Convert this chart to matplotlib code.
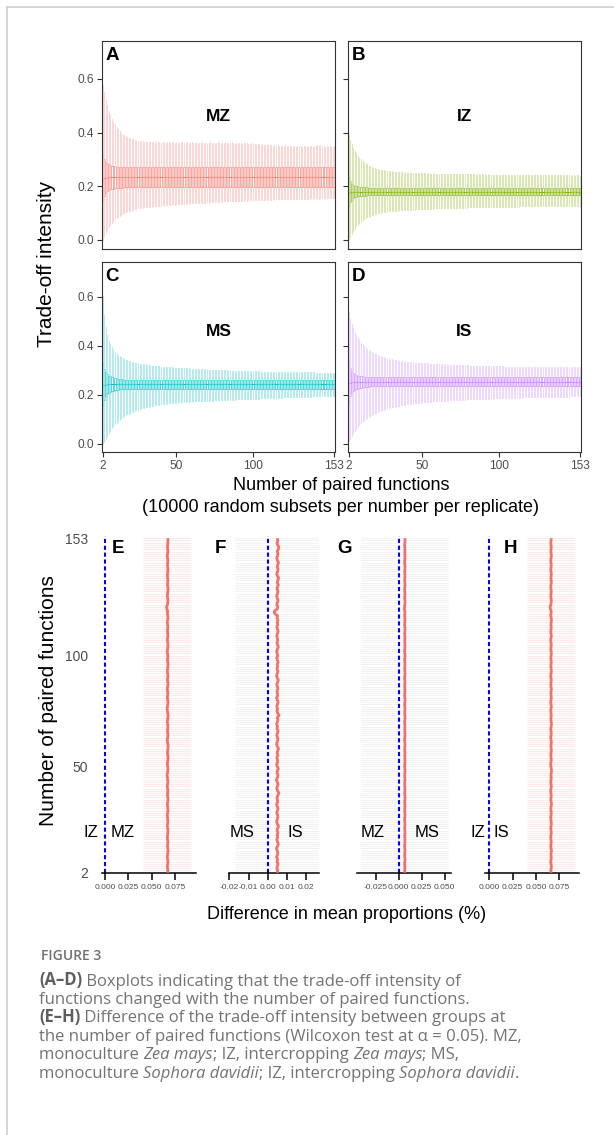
# -*- coding: utf-8 -*-
import matplotlib
matplotlib.use('Agg')
import matplotlib.pyplot as plt
from matplotlib.lines import Line2D
from matplotlib.font_manager import FontProperties

W, H = 614, 1135

# number of paired functions (one box / one estimate per number)
N_PAIRS = list(range(2, 154))

# ---------------- A-D : boxplot statistics per number of paired functions
MZ_HI = [0.578, 0.552, 0.523, 0.501, 0.482, 0.466, 0.452, 0.440, 0.430, 0.421,
         0.413, 0.406, 0.400, 0.395, 0.390, 0.386, 0.383, 0.380, 0.378, 0.376,
         0.374, 0.372, 0.371, 0.370, 0.369, 0.368, 0.367, 0.366, 0.366, 0.365,
         0.364, 0.365, 0.363, 0.364, 0.362, 0.364, 0.365, 0.363, 0.362, 0.364,
         0.363, 0.362, 0.364, 0.363, 0.361, 0.363, 0.364, 0.362, 0.363, 0.361,
         0.362, 0.364, 0.363, 0.361, 0.362, 0.363, 0.361, 0.362, 0.364, 0.362,
         0.361, 0.363, 0.362, 0.360, 0.362, 0.363, 0.361, 0.362, 0.360, 0.362,
         0.363, 0.361, 0.362, 0.360, 0.361, 0.363, 0.362, 0.360, 0.361, 0.362,
         0.364, 0.362, 0.360, 0.361, 0.363, 0.360, 0.359, 0.361, 0.362, 0.360,
         0.361, 0.359, 0.360, 0.362, 0.360, 0.358, 0.359, 0.361, 0.358, 0.357,
         0.358, 0.356, 0.357, 0.355, 0.356, 0.354, 0.355, 0.353, 0.354, 0.352,
         0.353, 0.351, 0.352, 0.350, 0.352, 0.351, 0.349, 0.351, 0.350, 0.352,
         0.350, 0.349, 0.351, 0.348, 0.350, 0.349, 0.347, 0.349, 0.350, 0.348,
         0.347, 0.349, 0.348, 0.346, 0.348, 0.347, 0.349, 0.346, 0.348, 0.350,
         0.352, 0.355, 0.353, 0.350, 0.348, 0.347, 0.349, 0.346, 0.348, 0.347,
         0.346, 0.348]
MZ_LO = [0.000, 0.014, 0.027, 0.038, 0.048, 0.056, 0.063, 0.070, 0.076, 0.081,
         0.086, 0.090, 0.094, 0.097, 0.100, 0.103, 0.105, 0.107, 0.109, 0.111,
         0.113, 0.114, 0.116, 0.117, 0.118, 0.119, 0.120, 0.121, 0.122, 0.122,
         0.123, 0.124, 0.124, 0.125, 0.126, 0.126, 0.127, 0.127, 0.128, 0.128,
         0.129, 0.129, 0.130, 0.130, 0.131, 0.131, 0.132, 0.131, 0.133, 0.132,
         0.133, 0.134, 0.133, 0.135, 0.134, 0.135, 0.136, 0.135, 0.136, 0.137,
         0.136, 0.137, 0.138, 0.137, 0.138, 0.139, 0.138, 0.139, 0.140, 0.139,
         0.140, 0.141, 0.140, 0.141, 0.142, 0.141, 0.142, 0.143, 0.142, 0.143,
         0.144, 0.143, 0.144, 0.145, 0.144, 0.145, 0.146, 0.145, 0.146, 0.146,
         0.146, 0.145, 0.146, 0.147, 0.146, 0.147, 0.147, 0.148, 0.147, 0.148,
         0.148, 0.147, 0.148, 0.149, 0.148, 0.149, 0.149, 0.150, 0.149, 0.150,
         0.150, 0.151, 0.150, 0.151, 0.151, 0.152, 0.151, 0.152, 0.152, 0.152,
         0.151, 0.152, 0.153, 0.152, 0.153, 0.153, 0.152, 0.153, 0.154, 0.153,
         0.154, 0.153, 0.154, 0.154, 0.153, 0.154, 0.155, 0.154, 0.155, 0.154,
         0.155, 0.154, 0.155, 0.156, 0.155, 0.155, 0.156, 0.155, 0.156, 0.155,
         0.156, 0.156]
MZ_Q3 = [0.316, 0.300, 0.290, 0.285, 0.281, 0.278, 0.276, 0.275, 0.274, 0.273,
         0.272, 0.272, 0.271, 0.271] + [0.270] * 138
MZ_Q1 = [0.148, 0.165, 0.175, 0.181, 0.185, 0.188, 0.190, 0.191, 0.192, 0.193,
         0.194, 0.194, 0.195, 0.195] + [0.197] * 138
MZ_MED = [0.225, 0.229, 0.231, 0.232, 0.233, 0.233, 0.234, 0.234, 0.234, 0.234,
          0.234, 0.234, 0.234, 0.234] + [0.233] * 138

IZ_HI = [0.390, 0.372, 0.357, 0.344, 0.333, 0.323, 0.314, 0.306, 0.300, 0.294,
         0.289, 0.285, 0.281, 0.277, 0.274, 0.271, 0.269, 0.267, 0.265, 0.263,
         0.262, 0.261, 0.260, 0.259, 0.258, 0.257, 0.256, 0.255, 0.255, 0.254,
         0.254, 0.253, 0.253, 0.252, 0.252, 0.252, 0.251, 0.251, 0.251, 0.250,
         0.250, 0.250, 0.249, 0.250, 0.249, 0.249, 0.248, 0.249, 0.248, 0.248,
         0.248, 0.247, 0.248, 0.247, 0.247, 0.248, 0.247, 0.246, 0.247, 0.246,
         0.247, 0.246, 0.246, 0.245, 0.246, 0.246, 0.245, 0.246, 0.245, 0.245,
         0.246, 0.245, 0.245, 0.244, 0.245, 0.245, 0.244, 0.245, 0.244, 0.244,
         0.245, 0.244, 0.244, 0.243, 0.244, 0.244, 0.243, 0.244, 0.243, 0.244,
         0.243, 0.244, 0.243, 0.243, 0.242, 0.243, 0.243, 0.242, 0.243, 0.242,
         0.243, 0.242, 0.243, 0.242, 0.242, 0.243, 0.242, 0.242, 0.241, 0.242,
         0.242, 0.241, 0.242, 0.242, 0.241, 0.242, 0.241, 0.241, 0.242, 0.241,
         0.241, 0.242, 0.241, 0.241, 0.240, 0.241, 0.241, 0.240, 0.241, 0.241,
         0.240, 0.241, 0.240, 0.241, 0.240, 0.240, 0.241, 0.240, 0.240, 0.241,
         0.240, 0.240, 0.241, 0.240, 0.240, 0.239, 0.240, 0.240, 0.239, 0.240,
         0.240, 0.239]
IZ_LO = [0.000, 0.012, 0.023, 0.033, 0.042, 0.050, 0.057, 0.063, 0.068, 0.073,
         0.077, 0.081, 0.084, 0.087, 0.090, 0.092, 0.094, 0.096, 0.098, 0.099,
         0.100, 0.101, 0.102, 0.103, 0.104, 0.105, 0.106, 0.106, 0.107, 0.108,
         0.108, 0.109, 0.109, 0.110, 0.110, 0.111, 0.111, 0.111, 0.112, 0.112,
         0.112, 0.113, 0.113, 0.113, 0.114, 0.114, 0.114, 0.114, 0.115, 0.115,
         0.115, 0.115, 0.116, 0.116, 0.116, 0.116, 0.117, 0.117, 0.117, 0.117,
         0.117, 0.118, 0.118, 0.118, 0.118, 0.118, 0.119, 0.119, 0.119, 0.119,
         0.119, 0.119, 0.120, 0.120, 0.120, 0.120, 0.120, 0.120, 0.121, 0.121,
         0.121, 0.121, 0.121, 0.121, 0.121, 0.122, 0.122, 0.122, 0.122, 0.122,
         0.122, 0.122, 0.122, 0.123, 0.123, 0.123, 0.123, 0.123, 0.123, 0.123,
         0.123, 0.123, 0.124, 0.124, 0.124, 0.124, 0.124, 0.124, 0.124, 0.124,
         0.124, 0.124, 0.125, 0.125, 0.125, 0.125, 0.125, 0.125, 0.125, 0.125,
         0.125, 0.125, 0.125, 0.126, 0.126, 0.126, 0.126, 0.126, 0.126, 0.126,
         0.126, 0.126, 0.126, 0.126, 0.126, 0.127, 0.127, 0.127, 0.127, 0.127,
         0.127, 0.127, 0.127, 0.127, 0.127, 0.127, 0.127, 0.127, 0.128, 0.128,
         0.128, 0.128]
IZ_Q3 = [0.230, 0.218, 0.210, 0.205, 0.202, 0.200, 0.199, 0.198, 0.197, 0.197,
         0.196, 0.196, 0.196, 0.195] + [0.195] * 138
IZ_Q1 = [0.125, 0.140, 0.150, 0.155, 0.158, 0.160, 0.162, 0.163, 0.164, 0.164,
         0.165, 0.165, 0.166, 0.166] + [0.166] * 138
IZ_MED = [0.176, 0.177, 0.178, 0.178, 0.179, 0.179, 0.179, 0.179, 0.179, 0.179,
          0.179, 0.179, 0.179, 0.179] + [0.179] * 138

MS_HI = [0.604, 0.523, 0.475, 0.443, 0.420, 0.405, 0.393, 0.383, 0.375, 0.368,
         0.362, 0.357, 0.353, 0.349, 0.346, 0.343, 0.340, 0.338, 0.336, 0.334,
         0.332, 0.330, 0.329, 0.327, 0.326, 0.325, 0.324, 0.323, 0.322, 0.321,
         0.320, 0.319, 0.318, 0.318, 0.317, 0.316, 0.316, 0.315, 0.314, 0.314,
         0.313, 0.313, 0.312, 0.312, 0.311, 0.311, 0.310, 0.310, 0.310, 0.309,
         0.309, 0.308, 0.308, 0.308, 0.307, 0.307, 0.307, 0.306, 0.306, 0.306,
         0.305, 0.305, 0.305, 0.304, 0.304, 0.304, 0.303, 0.303, 0.303, 0.302,
         0.302, 0.302, 0.301, 0.301, 0.301, 0.300, 0.300, 0.300, 0.300, 0.299,
         0.299, 0.299, 0.299, 0.298, 0.298, 0.298, 0.298, 0.297, 0.297, 0.297,
         0.297, 0.297, 0.296, 0.296, 0.296, 0.296, 0.296, 0.295, 0.295, 0.295,
         0.295, 0.295, 0.295, 0.294, 0.294, 0.294, 0.294, 0.294, 0.294, 0.294,
         0.293, 0.293, 0.293, 0.293, 0.293, 0.293, 0.293, 0.293, 0.292, 0.292,
         0.292, 0.292, 0.292, 0.292, 0.292, 0.292, 0.292, 0.292, 0.291, 0.291,
         0.291, 0.291, 0.291, 0.291, 0.291, 0.291, 0.291, 0.291, 0.291, 0.290,
         0.290, 0.290, 0.290, 0.290, 0.290, 0.290, 0.290, 0.290, 0.290, 0.290,
         0.290, 0.290]
MS_LO = [0.000, 0.008, 0.018, 0.030, 0.042, 0.053, 0.063, 0.072, 0.080, 0.086,
         0.092, 0.098, 0.103, 0.108, 0.112, 0.116, 0.120, 0.123, 0.126, 0.129,
         0.131, 0.134, 0.136, 0.138, 0.140, 0.142, 0.144, 0.146, 0.148, 0.150,
         0.151, 0.153, 0.154, 0.155, 0.156, 0.157, 0.158, 0.159, 0.160, 0.161,
         0.162, 0.162, 0.163, 0.164, 0.164, 0.165, 0.166, 0.166, 0.167, 0.167,
         0.168, 0.168, 0.169, 0.169, 0.170, 0.170, 0.171, 0.171, 0.171, 0.172,
         0.172, 0.173, 0.173, 0.173, 0.174, 0.174, 0.174, 0.175, 0.175, 0.175,
         0.176, 0.176, 0.176, 0.177, 0.177, 0.177, 0.178, 0.178, 0.178, 0.178,
         0.179, 0.179, 0.179, 0.180, 0.180, 0.180, 0.180, 0.181, 0.181, 0.181,
         0.181, 0.182, 0.182, 0.182, 0.182, 0.183, 0.183, 0.183, 0.183, 0.184,
         0.184, 0.184, 0.184, 0.185, 0.185, 0.185, 0.185, 0.186, 0.186, 0.186,
         0.186, 0.187, 0.187, 0.187, 0.187, 0.188, 0.188, 0.188, 0.188, 0.189,
         0.189, 0.189, 0.189, 0.190, 0.190, 0.190, 0.190, 0.190, 0.191, 0.191,
         0.191, 0.191, 0.192, 0.192, 0.192, 0.192, 0.192, 0.193, 0.193, 0.193,
         0.193, 0.193, 0.194, 0.194, 0.194, 0.194, 0.194, 0.195, 0.195, 0.195,
         0.195, 0.195]
MS_Q3 = [0.330, 0.305, 0.292, 0.284, 0.278, 0.274, 0.271, 0.269, 0.267, 0.266,
         0.265, 0.264, 0.263, 0.263] + [0.261] * 138
MS_Q1 = [0.158, 0.180, 0.193, 0.201, 0.207, 0.211, 0.214, 0.216, 0.218, 0.219,
         0.220, 0.221, 0.222, 0.223] + [0.225] * 138
MS_MED = [0.240, 0.241, 0.241, 0.242, 0.242, 0.242, 0.242, 0.242, 0.242, 0.242,
          0.242, 0.242, 0.242, 0.242] + [0.242] * 138

IS_HI = [0.537, 0.510, 0.488, 0.470, 0.457, 0.445, 0.434, 0.424, 0.415, 0.407,
         0.400, 0.394, 0.388, 0.383, 0.378, 0.374, 0.370, 0.367, 0.364, 0.361,
         0.359, 0.357, 0.355, 0.353, 0.351, 0.349, 0.347, 0.346, 0.344, 0.343,
         0.342, 0.341, 0.340, 0.339, 0.338, 0.337, 0.336, 0.335, 0.335, 0.334,
         0.333, 0.333, 0.332, 0.331, 0.331, 0.330, 0.330, 0.329, 0.329, 0.328,
         0.328, 0.327, 0.327, 0.326, 0.326, 0.326, 0.325, 0.325, 0.324, 0.324,
         0.324, 0.323, 0.323, 0.323, 0.322, 0.322, 0.322, 0.321, 0.321, 0.321,
         0.321, 0.320, 0.320, 0.320, 0.320, 0.319, 0.319, 0.319, 0.319, 0.318,
         0.318, 0.318, 0.318, 0.318, 0.317, 0.317, 0.317, 0.317, 0.317, 0.316,
         0.316, 0.316, 0.316, 0.316, 0.316, 0.315, 0.315, 0.315, 0.315, 0.315,
         0.315, 0.315, 0.314, 0.314, 0.314, 0.314, 0.314, 0.314, 0.314, 0.314,
         0.313, 0.313, 0.313, 0.313, 0.313, 0.313, 0.313, 0.313, 0.313, 0.313,
         0.313, 0.312, 0.312, 0.312, 0.312, 0.312, 0.312, 0.312, 0.312, 0.312,
         0.312, 0.312, 0.312, 0.312, 0.311, 0.311, 0.311, 0.311, 0.311, 0.311,
         0.311, 0.311, 0.311, 0.311, 0.311, 0.311, 0.311, 0.311, 0.311, 0.311,
         0.311, 0.311]
IS_LO = [0.010, 0.020, 0.031, 0.042, 0.052, 0.061, 0.069, 0.077, 0.084, 0.090,
         0.096, 0.101, 0.106, 0.110, 0.114, 0.118, 0.121, 0.124, 0.127, 0.130,
         0.132, 0.134, 0.137, 0.139, 0.141, 0.143, 0.144, 0.146, 0.148, 0.149,
         0.151, 0.152, 0.153, 0.155, 0.156, 0.157, 0.158, 0.159, 0.160, 0.161,
         0.162, 0.163, 0.163, 0.164, 0.165, 0.166, 0.166, 0.167, 0.168, 0.168,
         0.169, 0.169, 0.170, 0.171, 0.171, 0.172, 0.172, 0.173, 0.173, 0.174,
         0.174, 0.175, 0.175, 0.175, 0.176, 0.176, 0.177, 0.177, 0.177, 0.178,
         0.178, 0.178, 0.179, 0.179, 0.179, 0.180, 0.180, 0.180, 0.181, 0.181,
         0.181, 0.181, 0.182, 0.182, 0.182, 0.183, 0.183, 0.183, 0.183, 0.184,
         0.184, 0.184, 0.184, 0.185, 0.185, 0.185, 0.185, 0.185, 0.186, 0.186,
         0.186, 0.186, 0.186, 0.187, 0.187, 0.187, 0.187, 0.187, 0.188, 0.188,
         0.188, 0.188, 0.188, 0.188, 0.189, 0.189, 0.189, 0.189, 0.189, 0.189,
         0.190, 0.190, 0.190, 0.190, 0.190, 0.190, 0.190, 0.191, 0.191, 0.191,
         0.191, 0.191, 0.191, 0.191, 0.191, 0.192, 0.192, 0.192, 0.192, 0.192,
         0.192, 0.192, 0.192, 0.192, 0.192, 0.193, 0.193, 0.193, 0.193, 0.193,
         0.193, 0.193]
IS_Q3 = [0.330, 0.308, 0.296, 0.289, 0.284, 0.280, 0.278, 0.276, 0.275, 0.274,
         0.273, 0.272, 0.272, 0.271] + [0.270] * 138
IS_Q1 = [0.170, 0.193, 0.205, 0.213, 0.218, 0.222, 0.225, 0.227, 0.229, 0.230,
         0.231, 0.232, 0.232, 0.233] + [0.235] * 138
IS_MED = [0.248, 0.249, 0.250, 0.250, 0.250, 0.251, 0.251, 0.251, 0.251, 0.251,
          0.251, 0.251, 0.251, 0.251] + [0.251] * 138

# ---------------- E-H : difference in mean proportions per number
E_DIFF = [
    0.0671, 0.0674, 0.0670, 0.0668, 0.0672, 0.0675, 0.0671, 0.0667, 0.0670, 0.0673, 0.0676, 0.0672, 0.0669, 0.0671, 0.0674, 0.0670, 0.0668, 0.0671, 0.0673,
    0.0675, 0.0671, 0.0668, 0.0670, 0.0674, 0.0672, 0.0669, 0.0667, 0.0671, 0.0675, 0.0673, 0.0670, 0.0668, 0.0672, 0.0676, 0.0673, 0.0669, 0.0671, 0.0674,
    0.0670, 0.0667, 0.0671, 0.0674, 0.0672, 0.0669, 0.0665, 0.0670, 0.0673, 0.0675, 0.0671, 0.0668, 0.0670, 0.0673, 0.0676, 0.0672, 0.0669, 0.0671, 0.0674,
    0.0677, 0.0673, 0.0670, 0.0668, 0.0671, 0.0675, 0.0672, 0.0669, 0.0672, 0.0674, 0.0671, 0.0668, 0.0670, 0.0673, 0.0676, 0.0672, 0.0669, 0.0666, 0.0670,
    0.0673, 0.0675, 0.0671, 0.0668, 0.0671, 0.0674, 0.0670, 0.0667, 0.0671, 0.0675, 0.0673, 0.0669, 0.0671, 0.0674, 0.0671, 0.0668, 0.0670, 0.0673, 0.0676,
    0.0672, 0.0669, 0.0671, 0.0674, 0.0670, 0.0667, 0.0671, 0.0673, 0.0675, 0.0671, 0.0668, 0.0670, 0.0674, 0.0672, 0.0669, 0.0671, 0.0674, 0.0670, 0.0667,
    0.0671, 0.0675, 0.0672, 0.0669, 0.0671, 0.0663, 0.0659, 0.0670, 0.0673, 0.0675, 0.0671, 0.0668, 0.0670, 0.0673, 0.0676, 0.0672, 0.0669, 0.0671, 0.0674,
    0.0671, 0.0668, 0.0670, 0.0673, 0.0675, 0.0671, 0.0669, 0.0672, 0.0674, 0.0670, 0.0667, 0.0671, 0.0674, 0.0672, 0.0669, 0.0671, 0.0673, 0.0675, 0.0671]
F_DIFF = [
    0.0049, 0.0052, 0.0047, 0.0050, 0.0054, 0.0048, 0.0051, 0.0046, 0.0050, 0.0053, 0.0049, 0.0045, 0.0051, 0.0055, 0.0050, 0.0047, 0.0052, 0.0049, 0.0053,
    0.0048, 0.0051, 0.0056, 0.0050, 0.0046, 0.0049, 0.0053, 0.0051, 0.0047, 0.0050, 0.0054, 0.0049, 0.0046, 0.0052, 0.0050, 0.0048, 0.0053, 0.0058, 0.0051,
    0.0047, 0.0050, 0.0054, 0.0049, 0.0045, 0.0051, 0.0053, 0.0048, 0.0050, 0.0055, 0.0049, 0.0046, 0.0052, 0.0050, 0.0047, 0.0053, 0.0049, 0.0051, 0.0056,
    0.0050, 0.0046, 0.0049, 0.0053, 0.0051, 0.0047, 0.0050, 0.0054, 0.0048, 0.0051, 0.0046, 0.0050, 0.0053, 0.0049, 0.0059, 0.0052, 0.0048, 0.0051, 0.0047,
    0.0050, 0.0054, 0.0049, 0.0046, 0.0052, 0.0050, 0.0048, 0.0053, 0.0050, 0.0047, 0.0051, 0.0055, 0.0049, 0.0046, 0.0050, 0.0053, 0.0048, 0.0051, 0.0049,
    0.0054, 0.0050, 0.0047, 0.0052, 0.0049, 0.0046, 0.0051, 0.0055, 0.0050, 0.0048, 0.0052, 0.0049, 0.0047, 0.0051, 0.0054, 0.0050, 0.0047, 0.0052, 0.0049,
    0.0053, 0.0048, 0.0051, 0.0036, 0.0034, 0.0049, 0.0052, 0.0047, 0.0050, 0.0054, 0.0049, 0.0046, 0.0051, 0.0053, 0.0048, 0.0050, 0.0055, 0.0049, 0.0052,
    0.0057, 0.0050, 0.0047, 0.0051, 0.0054, 0.0049, 0.0052, 0.0056, 0.0050, 0.0047, 0.0051, 0.0053, 0.0049, 0.0055, 0.0058, 0.0051, 0.0048, 0.0052, 0.0050]
G_DIFF = [
    0.0067, 0.0065, 0.0068, 0.0066, 0.0064, 0.0067, 0.0069, 0.0066, 0.0065, 0.0067, 0.0068, 0.0066, 0.0064, 0.0066, 0.0068, 0.0067, 0.0065, 0.0066, 0.0069,
    0.0067, 0.0065, 0.0066, 0.0068, 0.0066, 0.0064, 0.0067, 0.0069, 0.0067, 0.0065, 0.0066, 0.0068, 0.0066, 0.0065, 0.0067, 0.0070, 0.0067, 0.0065, 0.0066,
    0.0068, 0.0066, 0.0064, 0.0066, 0.0068, 0.0067, 0.0065, 0.0067, 0.0069, 0.0066, 0.0064, 0.0066, 0.0068, 0.0067, 0.0065, 0.0066, 0.0068, 0.0066, 0.0065,
    0.0067, 0.0069, 0.0066, 0.0064, 0.0066, 0.0068, 0.0067, 0.0065, 0.0066, 0.0068, 0.0066, 0.0064, 0.0067, 0.0069, 0.0067, 0.0065, 0.0066, 0.0068, 0.0066,
    0.0065, 0.0067, 0.0069, 0.0066, 0.0064, 0.0066, 0.0068, 0.0067, 0.0065, 0.0067, 0.0068, 0.0066, 0.0064, 0.0066, 0.0069, 0.0067, 0.0065, 0.0066, 0.0068,
    0.0066, 0.0065, 0.0067, 0.0069, 0.0066, 0.0064, 0.0066, 0.0068, 0.0067, 0.0065, 0.0066, 0.0068, 0.0066, 0.0065, 0.0067, 0.0069, 0.0066, 0.0064, 0.0066,
    0.0068, 0.0067, 0.0065, 0.0067, 0.0068, 0.0060, 0.0064, 0.0066, 0.0069, 0.0067, 0.0065, 0.0066, 0.0068, 0.0066, 0.0064, 0.0067, 0.0069, 0.0067, 0.0065,
    0.0066, 0.0068, 0.0066, 0.0065, 0.0067, 0.0069, 0.0066, 0.0064, 0.0066, 0.0068, 0.0067, 0.0065, 0.0066, 0.0068, 0.0066, 0.0064, 0.0067, 0.0069, 0.0067]
H_DIFF = [
    0.0662, 0.0659, 0.0663, 0.0665, 0.0661, 0.0658, 0.0662, 0.0664, 0.0660, 0.0663, 0.0666, 0.0661, 0.0659, 0.0662, 0.0664, 0.0660, 0.0658, 0.0661, 0.0664,
    0.0662, 0.0659, 0.0661, 0.0665, 0.0663, 0.0660, 0.0658, 0.0662, 0.0664, 0.0661, 0.0659, 0.0663, 0.0666, 0.0662, 0.0659, 0.0661, 0.0664, 0.0660, 0.0658,
    0.0662, 0.0665, 0.0661, 0.0659, 0.0662, 0.0664, 0.0660, 0.0663, 0.0667, 0.0663, 0.0660, 0.0658, 0.0661, 0.0664, 0.0662, 0.0659, 0.0661, 0.0665, 0.0662,
    0.0660, 0.0663, 0.0665, 0.0661, 0.0658, 0.0662, 0.0664, 0.0661, 0.0659, 0.0662, 0.0666, 0.0663, 0.0660, 0.0661, 0.0664, 0.0662, 0.0659, 0.0661, 0.0665,
    0.0662, 0.0658, 0.0661, 0.0664, 0.0662, 0.0660, 0.0663, 0.0665, 0.0661, 0.0659, 0.0662, 0.0664, 0.0660, 0.0658, 0.0662, 0.0665, 0.0663, 0.0660, 0.0661,
    0.0664, 0.0661, 0.0659, 0.0662, 0.0665, 0.0662, 0.0659, 0.0661, 0.0664, 0.0660, 0.0658, 0.0662, 0.0665, 0.0661, 0.0659, 0.0662, 0.0664, 0.0660, 0.0663,
    0.0666, 0.0662, 0.0659, 0.0661, 0.0664, 0.0655, 0.0651, 0.0660, 0.0663, 0.0665, 0.0661, 0.0659, 0.0662, 0.0664, 0.0661, 0.0658, 0.0662, 0.0665, 0.0662,
    0.0660, 0.0663, 0.0665, 0.0661, 0.0659, 0.0662, 0.0664, 0.0661, 0.0658, 0.0662, 0.0665, 0.0663, 0.0660, 0.0661, 0.0664, 0.0662, 0.0659, 0.0661, 0.0664]

# confidence bounds of the difference (same for every number)
CI_LO = [0.0407, -0.0170, -0.0413, 0.0400]
CI_HI = [0.0922, 0.0262, 0.0540, 0.0920]

GROUP_NAMES = ['MZ', 'IZ', 'MS', 'IS']
GROUP_COLORS = ['#F8766D', '#7CAE00', '#00BFC4', '#C77CFF']
PAIR_LEFT = ['IZ', 'MS', 'MZ', 'IZ']
PAIR_RIGHT = ['MZ', 'IS', 'MS', 'IS']

plt.rcParams['font.family'] = ['Liberation Sans', 'DejaVu Sans']

fig = plt.figure(figsize=(W / 100, H / 100), dpi=100)
fig.patch.set_facecolor('white')


def px_axes(x0, y0, x1, y1):
    return fig.add_axes([x0 / W, 1 - y1 / H, (x1 - x0) / W, (y1 - y0) / H])


def fig_text(x, y, s, **kw):
    return fig.text(x / W, 1 - y / H, s, **kw)


# light frame of the figure container
fig.add_artist(Line2D([7 / W, 7 / W], [0, 1 - 7 / H], transform=fig.transFigure,
                      color='#CFCFCF', lw=1.2))
fig.add_artist(Line2D([7 / W, 1], [1 - 7 / H, 1 - 7 / H], transform=fig.transFigure,
                      color='#CFCFCF', lw=1.2))

# ---------------- top block A-D
top_stats = [(MZ_Q1, MZ_MED, MZ_Q3, MZ_LO, MZ_HI),
             (IZ_Q1, IZ_MED, IZ_Q3, IZ_LO, IZ_HI),
             (MS_Q1, MS_MED, MS_Q3, MS_LO, MS_HI),
             (IS_Q1, IS_MED, IS_Q3, IS_LO, IS_HI)]
top_boxes = [(102, 41, 335, 249), (348, 41, 580.5, 249),
             (102, 262, 335, 452), (348, 262, 580.5, 452)]
letters = ['A', 'B', 'C', 'D']

for k in range(4):
    x0, y0, x1, y1 = top_boxes[k]
    ax = px_axes(x0, y0, x1, y1)
    q1, med, q3, lo, hi = top_stats[k]
    col = GROUP_COLORS[k]
    stats = []
    for i in range(min(len(N_PAIRS), len(q1), len(med), len(q3), len(lo), len(hi))):
        stats.append(dict(med=med[i], q1=q1[i], q3=q3[i], whislo=lo[i], whishi=hi[i]))
    ax.bxp(stats, positions=N_PAIRS[:len(stats)], widths=0.7, showcaps=False,
           showfliers=False, manage_ticks=False,
           boxprops=dict(color=col, alpha=0.55, lw=0.5),
           whiskerprops=dict(color=col, alpha=0.32, lw=0.65),
           medianprops=dict(color=col, lw=0.8))
    ax.set_xlim(1.5, 153.5)
    ax.set_ylim(-0.034, 0.741)
    ax.set_yticks([0.0, 0.2, 0.4, 0.6])
    ax.set_yticklabels(['0.0', '0.2', '0.4', '0.6'])
    ax.set_xticks([2, 50, 100, 153])
    ax.set_xticklabels(['2', '50', '100', '153'])
    for sp in ax.spines.values():
        sp.set_color('#333333')
        sp.set_linewidth(0.8)
    ax.tick_params(axis='both', colors='#333333', labelcolor='#4D4D4D',
                   labelsize=8.6, length=3.5, width=0.8, pad=2)
    if k % 2 == 1:
        ax.tick_params(axis='y', labelleft=False)
    if k < 2:
        ax.tick_params(axis='x', bottom=False, labelbottom=False)
    fig_text(x0 + 3.5, y0 + 19, letters[k], fontsize=13.5, fontweight='bold',
             va='baseline', ha='left')
    fig_text((x0 + x1) / 2, y0 + (80 if k < 2 else 74), GROUP_NAMES[k],
             fontsize=12.5, fontweight='bold', va='baseline', ha='center')

fig_text(47, 263.5, 'Trade-off intensity', fontsize=15, rotation=90,
         ha='center', va='center')
fig_text(341, 490.5, 'Number of paired functions', fontsize=13,
         ha='center', va='baseline')
fig_text(341, 511.5, '(10000 random subsets per number per replicate)',
         fontsize=13, ha='center', va='baseline')

# ---------------- bottom block E-H
diffs = [E_DIFF, F_DIFF, G_DIFF, H_DIFF]
bot_boxes = [(101.7, 196), (229.3, 319.3), (356.7, 451), (485, 579)]
bot_xlim = [(-0.0035, 0.0975), (-0.020, 0.0268), (-0.0457, 0.0569), (-0.0046, 0.0961)]
bot_ticks = [[0.0, 0.025, 0.05, 0.075], [-0.02, -0.01, 0.0, 0.01, 0.02],
             [-0.025, 0.0, 0.025, 0.05], [0.0, 0.025, 0.05, 0.075]]
bot_ticklabels = [['0.000', '0.025', '0.050', '0.075'],
                  ['-0.02', '-0.01', '0.00', '0.01', '0.02'],
                  ['-0.025', '0.000', '0.025', '0.050'],
                  ['0.000', '0.025', '0.050', '0.075']]
band_colors = ['#FDEBE9', '#F3F3F3', '#F3F3F3', '#FDEBE9']
label_x = [(-0.0150, 0.0191), (-0.0135, 0.0142), (-0.0287, 0.0311), (-0.0126, 0.0133)]
letter_x = [111.7, 214.6, 337.6, 504]

for k in range(4):
    x0, x1 = bot_boxes[k]
    ax = px_axes(x0, 536, x1, 872.7)
    est = diffs[k]
    n = N_PAIRS[:len(est)]
    ax.hlines(n, CI_LO[k], CI_HI[k], color=band_colors[k], lw=0.8, zorder=1)
    ax.axvline(0, color='#0000FF', lw=1.5, dashes=(2.0, 1.3), zorder=2)
    ax.plot(est, n, color='#F2726B', lw=2.0, solid_capstyle='butt', zorder=3)
    ax.set_xlim(*bot_xlim[k])
    ax.set_ylim(2, 154)
    ax.set_xticks(bot_ticks[k])
    ax.set_xticklabels(bot_ticklabels[k])
    for side in ['top', 'right', 'left']:
        ax.spines[side].set_visible(False)
    ax.spines['bottom'].set_color('black')
    ax.spines['bottom'].set_linewidth(1.1)
    ax.tick_params(axis='x', colors='black', labelcolor='#4D4D4D', labelsize=6.0,
                   length=5, width=1.1, pad=3)
    if k == 0:
        ax.set_yticks([2, 50, 100, 153])
        ax.set_yticklabels(['2', '50', '100', '153'])
        ax.tick_params(axis='y', length=0, labelsize=10, labelcolor='#4D4D4D', pad=10)
    else:
        ax.set_yticks([])
    ax.text(label_x[k][0], 18.2, PAIR_LEFT[k], fontsize=12, ha='center',
            va='baseline', clip_on=False)
    ax.text(label_x[k][1], 18.2, PAIR_RIGHT[k], fontsize=12, ha='center',
            va='baseline', clip_on=False)
    fig_text(letter_x[k], 553.3, 'EFGH'[k], fontsize=13.5, fontweight='bold',
             ha='left', va='baseline')

fig_text(49, 701, 'Number of paired functions', fontsize=15, rotation=90,
         ha='center', va='center')
fig_text(346.5, 919, 'Difference in mean proportions (%)', fontsize=13,
         ha='center', va='baseline')

# ---------------- caption
renderer = fig.canvas.get_renderer()
CAP_GRAY = '#737373'
CAP_DARK = '#5E5E5E'
CAP_SIZE = 12


def piece_width(s, prop):
    w1, _, _ = renderer.get_text_width_height_descent('|' + s + '|', prop, ismath=False)
    w2, _, _ = renderer.get_text_width_height_descent('||', prop, ismath=False)
    return w1 - w2


def caption_line(x, y, parts):
    for s, weight, style, color in parts:
        prop = FontProperties(family='Open Sans', size=CAP_SIZE, weight=weight, style=style)
        fig_text(x, y, s, fontproperties=prop, color=color, va='baseline', ha='left')
        x += piece_width(s, prop)


R, B, I = 'normal', 'bold', 'italic'
caption = [
    [('(A\u2013D)', B, R, CAP_DARK),
     (' Boxplots indicating that the trade-off intensity of', R, R, CAP_GRAY)],
    [('functions changed with the number of paired functions.', R, R, CAP_GRAY)],
    [('(E\u2013H)', B, R, CAP_DARK),
     (' Difference of the trade-off intensity between groups at', R, R, CAP_GRAY)],
    [('the number of paired functions (Wilcoxon test at \u03b1 = 0.05). MZ,', R, R, CAP_GRAY)],
    [('monoculture ', R, R, CAP_GRAY), ('Zea mays', R, I, CAP_GRAY),
     ('; IZ, intercropping ', R, R, CAP_GRAY), ('Zea mays', R, I, CAP_GRAY),
     ('; MS,', R, R, CAP_GRAY)],
    [('monoculture ', R, R, CAP_GRAY), ('Sophora davidii', R, I, CAP_GRAY),
     ('; IZ, intercropping ', R, R, CAP_GRAY), ('Sophora davidii', R, I, CAP_GRAY),
     ('.', R, R, CAP_GRAY)],
]

fig_text(41, 960, 'FIGURE 3', family='Open Sans', fontsize=10,
         fontweight='semibold', color='#707070', va='baseline')

for j, parts in enumerate(caption):
    caption_line(39, 985.5 + 18.4 * j, parts)

fig.savefig('out.png', dpi=100, facecolor='white')
